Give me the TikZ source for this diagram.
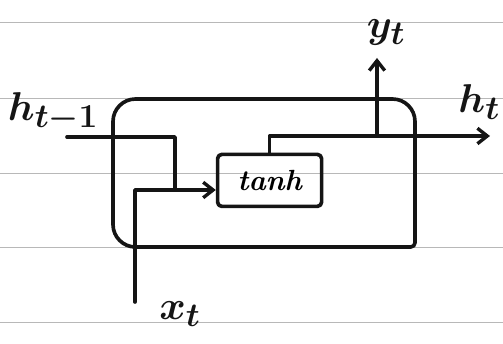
\documentclass[tikz,border=0pt]{standalone}
\usetikzlibrary{arrows.meta,positioning}
\definecolor{ink}{HTML}{151515}
\definecolor{rule}{HTML}{B8B8B8}

\begin{document}
\begin{tikzpicture}[line join=round,line cap=round,
  wire/.style={ink,line width=2.6pt},
  flow/.style={wire,-{Straight Barb[length=7pt,width=11pt,line width=2.4pt]}},
  gate/.style={draw=ink,line width=2.6pt,rounded corners=3pt,minimum width=2.6cm,minimum height=1.3cm,inner sep=0pt,font=\huge\itshape\bfseries},
  lbl/.style={ink,font=\Huge\boldmath,scale=1.15,inner sep=1pt}]
\useasboundingbox (0,0) rectangle (12.575,8.6);
% ruled paper
\foreach \y in {8.05,6.15,4.275,2.425,0.55}
  \draw[rule,line width=.6pt] (0,\y)--(12.575,\y);
% cell outline
\draw[wire] (6,2.425) [rounded corners=3pt]-- (10.375,2.425) [rounded corners=16pt]-- (10.375,6.125) -- (2.825,6.125) -- (2.825,2.425) -- cycle;
% points
\coordinate (hin) at (1.675,5.175);
\coordinate (xin) at (3.375,1.05);
\coordinate (merge) at (4.375,3.85);
\coordinate (hout) at (12.25,5.2);
\coordinate (ysplit) at (9.425,5.2);
\coordinate (yout) at (9.425,7.15);
\node[gate] (tanh) at (6.74,4.09) {tanh};
% wires
\draw[wire] (hin) -| (merge);
\draw[wire] (xin) |- (merge);
\draw[flow] (merge) -- (merge -| tanh.west);
\draw[flow] (tanh.north) |- (hout);
\draw[flow] (ysplit) -- (yout);
% labels
\node[lbl,anchor=west] (lhin) at (0.15,5.8) {$h_{t-1}$};
\node[lbl] (lxin) at (4.5,0.75) {$x_t$};
\node[lbl,anchor=east] (lhout) at (12.55,6.05) {$h_t$};
\node[lbl] (lyout) at (9.65,7.8) {$y_t$};
\end{tikzpicture}
\end{document}
